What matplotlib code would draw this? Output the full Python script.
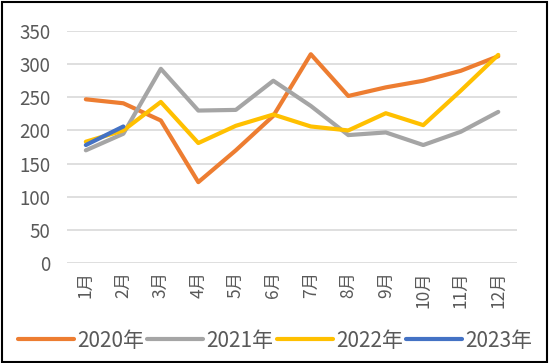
import matplotlib.pyplot as plt
import numpy as np

plt.rcParams['font.family'] = ['Noto Sans CJK SC', 'DejaVu Sans']

months = ["1月", "2月", "3月", "4月", "5月", "6月", "7月", "8月", "9月", "10月", "11月", "12月"]
y2020 = [247, 241, 215, 122, 170, 222, 315, 252, 265, 275, 290, 312]
y2021 = [170, 195, 293, 230, 231, 275, 237, 193, 197, 178, 198, 228]
y2022 = [183, 200, 243, 181, 207, 224, 206, 200, 226, 208, 260, 314]
y2023 = [178, 206]

series = [
    ("2020年", y2020, "#ED7D31"),
    ("2021年", y2021, "#A5A5A5"),
    ("2022年", y2022, "#FFC000"),
    ("2023年", y2023, "#4472C4"),
]

fig = plt.figure(figsize=(5.5, 3.63), dpi=100)
ax = fig.add_axes([0.122, 0.2755, 0.818, 0.639])

x = np.arange(len(months))
for name, vals, col in series:
    ax.plot(x[:len(vals)], vals, color=col, lw=3, label=name, solid_capstyle="round")

ax.set_ylim(0, 350)
ax.set_yticks(range(0, 351, 50))
ax.set_xlim(-0.5, 11.5)
ax.set_xticks(x)
ax.set_xticklabels(months, rotation=90)
ax.grid(axis="y", color="#D9D9D9", lw=1.2)
ax.set_axisbelow(True)
for s in ax.spines.values():
    s.set_visible(False)
ax.tick_params(length=0, colors="#595959", labelsize=13.5)
ax.tick_params(axis="x", labelsize=12.5, pad=6)
ax.tick_params(axis="y", pad=12)

fig.legend(loc="lower center", bbox_to_anchor=(0.5, -0.02), ncol=4, frameon=False,
           fontsize=15, handlelength=2.7, handletextpad=0.15, columnspacing=0.15,
           labelcolor="#595959")

fig.patches.append(plt.Rectangle((0.004, 0.004), 0.99, 0.99, transform=fig.transFigure,
                                 fill=False, edgecolor="black", lw=1.5))

fig.savefig("out.png", dpi=100)
